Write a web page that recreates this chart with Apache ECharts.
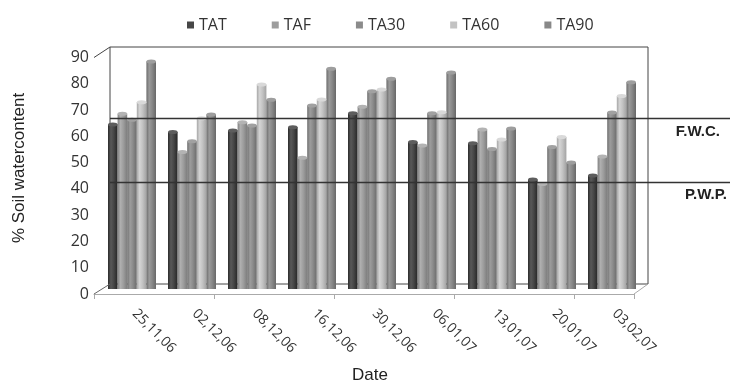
<!DOCTYPE html>
<html>
<head>
<meta charset="utf-8">
<script src="https://cdn.jsdelivr.net/npm/echarts@6/dist/echarts.min.js"></script>
<style>
  html, body { margin: 0; padding: 0; background: #fff; }
  #chart { width: 730px; height: 386px; }
</style>
</head>
<body>
<div id="chart"></div>
<script>
// Sampling dates
const categories = ['25,11,06', '02,12,06', '08,12,06', '16,12,06', '30,12,06', '06,01,07', '13,01,07', '20,01,07', '03,02,07'];

// Soil water content (%) per treatment
const TAT  = [62.6, 59.7, 60.3, 61.6, 66.9, 55.9, 55.5, 41.7, 43.2];
const TAF  = [66.7, 52.1, 63.5, 49.9, 69.4, 54.6, 60.7, 40.0, 50.4];
const TA30 = [64.4, 56.2, 62.2, 69.8, 75.3, 66.9, 53.3, 54.0, 67.2];
const TA60 = [71.1, 65.0, 77.8, 72.1, 75.9, 67.3, 56.9, 57.8, 73.4];
const TA90 = [86.6, 66.4, 72.0, 83.8, 80.0, 82.4, 61.1, 48.1, 78.7];

const seriesNames = ['TAT', 'TAF', 'TA30', 'TA60', 'TA90'];
const seriesData = [TAT, TAF, TA30, TA60, TA90];

// Reference levels: field water capacity and permanent wilting point
const FWC = 64.9;
const PWP = 40.5;

// Value axis
const yMin = 0, yMax = 90, yStep = 10;

// Styling
const baseColors = ['#474747', '#9d9d9d', '#8b8b8b', '#c3c3c3', '#888888'];

function shade(hex, amt) {
  const n = parseInt(hex.slice(1), 16);
  const c = [(n >> 16) & 255, (n >> 8) & 255, n & 255].map(v => Math.max(0, Math.min(255, v + amt)));
  return 'rgb(' + c.join(',') + ')';
}
function cylinder(hex) {
  return {
    type: 'linear', x: 0, y: 0, x2: 1, y2: 0,
    colorStops: [
      { offset: 0, color: shade(hex, -28) },
      { offset: 0.3, color: shade(hex, 18) },
      { offset: 0.6, color: shade(hex, 0) },
      { offset: 1, color: shade(hex, -32) }
    ]
  };
}

// Pseudo-3D box layout (pixels)
const back  = { left: 110, top: 47,   right: 648, bottom: 284 };
const front = { left: 94,  top: 57.5, right: 634, bottom: 294 };
const mid   = { left: 102, top: 52.5, right: 642, bottom: 289 };
const catW = (front.right - front.left) / categories.length;

const chart = echarts.init(document.getElementById('chart'), null, { renderer: 'canvas' });

const hiddenCat = (g) => ({ type: 'category', gridIndex: g, data: categories, show: false });
const hiddenVal = (g) => ({ type: 'value', gridIndex: g, min: yMin, max: yMax, show: false, splitLine: { show: false } });

const series = [];
seriesNames.forEach((name, i) => {
  series.push({
    name: name,
    type: 'bar',
    xAxisIndex: 2, yAxisIndex: 2,
    barGap: 0,
    barCategoryGap: '20%',
    data: seriesData[i],
    itemStyle: { color: cylinder(baseColors[i]) },
    z: 3
  });
});
seriesNames.forEach((name, i) => {
  series.push({
    name: name,
    type: 'pictorialBar',
    xAxisIndex: 2, yAxisIndex: 2,
    barGap: 0,
    barCategoryGap: '20%',
    symbol: 'circle',
    symbolSize: [catW * 0.8 / 5, 4],
    symbolPosition: 'end',
    symbolOffset: [0, '-50%'],
    data: seriesData[i],
    itemStyle: { color: shade(baseColors[i], 22) },
    z: 4
  });
});
series.push({
  type: 'line',
  xAxisIndex: 3, yAxisIndex: 3,
  data: [],
  z: 10,
  markLine: {
    silent: true,
    symbol: ['none', 'none'],
    lineStyle: { color: '#333', width: 1.4, type: 'solid' },
    label: {
      show: true,
      position: 'insideEndBottom',
      color: '#222',
      fontFamily: 'Liberation Sans',
      fontWeight: 'bold',
      fontSize: 15
    },
    data: [
      { yAxis: FWC, label: { formatter: 'F.W.C.', distance: [10, 6] } },
      { yAxis: PWP, label: { formatter: 'P.W.P.', distance: [3, 5] } }
    ]
  }
});

const frameLine = (x1, y1, x2, y2, color) => ({
  type: 'line', silent: true, z: 5,
  shape: { x1, y1, x2, y2 },
  style: { stroke: color, lineWidth: 1 }
});

chart.setOption({
  animation: false,
  backgroundColor: '#fff',
  legend: {
    top: 12,
    left: 182,
    itemWidth: 7,
    itemHeight: 7,
    itemGap: 45,
    icon: 'rect',
    textStyle: { fontSize: 16, color: '#333', fontFamily: 'Open Sans' },
    data: seriesNames.map((n, i) => ({ name: n, itemStyle: { color: baseColors[i] } }))
  },
  grid: [
    { left: back.left, top: back.top, width: back.right - back.left, height: back.bottom - back.top,
      show: true, borderColor: '#444', borderWidth: 1, backgroundColor: 'transparent' },
    { left: front.left, top: front.top, width: front.right - front.left, height: front.bottom - front.top },
    { left: mid.left, top: mid.top, width: mid.right - mid.left, height: mid.bottom - mid.top },
    { left: back.left, top: mid.top, right: 0, height: mid.bottom - mid.top },
    { left: front.left + catW / 2, top: front.top, width: front.right - front.left, height: front.bottom - front.top }
  ],
  xAxis: [
    hiddenCat(0),
    {
      type: 'category', gridIndex: 1, data: categories,
      axisLine: { show: true, lineStyle: { color: '#aaa', width: 1 } },
      axisTick: { show: true, length: 5, lineStyle: { color: '#aaa' } },
      axisLabel: { show: false }
    },
    hiddenCat(2),
    { type: 'value', gridIndex: 3, min: 0, max: 1, show: false },
    {
      type: 'category', gridIndex: 4, data: categories,
      axisLine: { show: false },
      axisTick: { show: false },
      axisLabel: {
        show: true, interval: 0, rotate: -45, margin: 37,
        align: 'center', verticalAlign: 'middle',
        fontSize: 14, color: '#333', fontFamily: 'Open Sans'
      }
    }
  ],
  yAxis: [
    hiddenVal(0),
    {
      type: 'value', gridIndex: 1, min: yMin, max: yMax, interval: yStep,
      axisLine: { show: false },
      axisTick: { show: false },
      splitLine: { show: false },
      axisLabel: { margin: 5, fontSize: 16, color: '#333', fontFamily: 'Open Sans' }
    },
    hiddenVal(2),
    hiddenVal(3),
    hiddenVal(4)
  ],
  graphic: [
    frameLine(front.left, front.top, back.left, back.top, '#444'),
    frameLine(front.left, front.bottom, back.left, back.bottom, '#666'),
    frameLine(front.right, front.bottom, back.right, back.bottom, '#aaa'),
    {
      type: 'text', silent: true,
      x: 19, y: 168, rotation: Math.PI / 2,
      style: {
        text: '% Soil watercontent', fill: '#222',
        font: '17px "Liberation Sans"', align: 'center', verticalAlign: 'middle'
      }
    },
    {
      type: 'text', silent: true,
      x: 370, y: 375,
      style: {
        text: 'Date', fill: '#222',
        font: '17px "Liberation Sans"', align: 'center', verticalAlign: 'middle'
      }
    }
  ],
  series: series
});
</script>
</body>
</html>
